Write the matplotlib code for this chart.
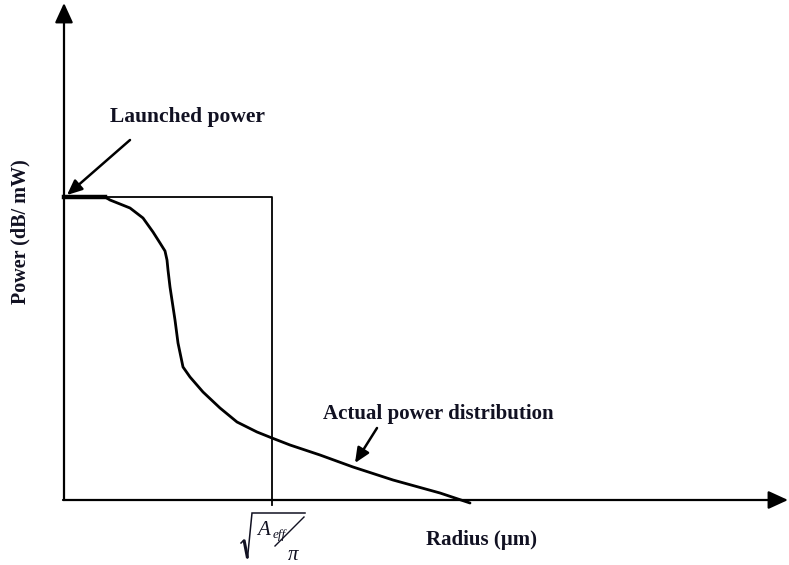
import matplotlib
matplotlib.use('Agg')
import matplotlib.pyplot as plt

# #### Data (arbitrary units: radius along x, power along y)

# Launched power level and effective radius sqrt(Aeff/pi)
launched_power = 30.3
r_eff = 20.8

# Actual power distribution
radius = [0.0, 4.1, 4.6, 6.6, 7.9, 8.9, 9.6, 10.1, 10.3, 10.4, 10.6, 11.1, 11.4, 11.9,
          12.6, 13.9, 15.6, 17.3, 19.3, 20.8, 22.6, 25.6, 28.9, 32.9, 37.6, 40.6]
power = [30.3, 30.3, 30.0, 29.2, 28.2, 26.8, 25.7, 24.9, 24.0, 23.0, 21.3, 18.0, 15.7, 13.3,
         12.3, 10.8, 9.2, 7.8, 6.8, 6.2, 5.5, 4.5, 3.3, 2.0, 0.7, -0.3]

# Flat top of the launched beam (drawn thicker)
flat_radius = [0.0, 4.1]

# Axis extents
x_max = 72.4
y_max = 49.7

txt = '#111122'
plt.rcParams['font.family'] = ['Liberation Serif', 'DejaVu Serif']

fig = plt.figure(figsize=(7.89, 5.65), dpi=100)
ax = fig.add_axes([0, 0, 1, 1])
ax.set_xlim(-6.4, 72.5)
ax.set_ylim(-6.5, 50.0)
ax.axis('off')

# Axes with arrow heads
ax.annotate('', xy=(0, y_max), xytext=(0, 0),
            arrowprops=dict(arrowstyle='-|>,head_length=1.2,head_width=0.55',
                            lw=1.6, color='black', mutation_scale=10, shrinkA=0, shrinkB=0))
ax.annotate('', xy=(x_max, 0), xytext=(-0.1, 0),
            arrowprops=dict(arrowstyle='-|>,head_length=1.2,head_width=0.55',
                            lw=1.6, color='black', mutation_scale=10, shrinkA=0, shrinkB=0))

# Launched power box
ax.plot([0, r_eff, r_eff], [launched_power, launched_power, -0.5], color='black', lw=1.3)

# Actual power distribution
ax.plot(radius, power, color='black', lw=2.0, solid_capstyle='round', solid_joinstyle='round')
ax.plot(flat_radius, [launched_power, launched_power], color='black', lw=3.2)

# Annotations
ax.annotate('', xy=(0.3, 30.5), xytext=(6.6, 36.0),
            arrowprops=dict(arrowstyle='-|>,head_length=0.9,head_width=0.4',
                            lw=1.8, color='black', mutation_scale=10, shrinkA=0, shrinkB=0))
ax.text(4.6, 37.8, 'Launched power', fontsize=15.5, fontweight='bold', color=txt, va='baseline')

ax.annotate('', xy=(29.1, 3.7), xytext=(31.3, 7.2),
            arrowprops=dict(arrowstyle='-|>,head_length=0.9,head_width=0.4',
                            lw=1.8, color='black', mutation_scale=10, shrinkA=0, shrinkB=0))
ax.text(25.9, 8.1, 'Actual power distribution', fontsize=15, fontweight='bold', color=txt, va='baseline')

# Axis labels
ax.text(36.2, -4.5, 'Radius (\u00b5m)', fontsize=15, fontweight='bold', color=txt, va='baseline')
ax.text(-4.4, 26.8, 'Power (dB/ mW)', fontsize=14.5, fontweight='bold', color=txt,
        rotation=90, ha='center', va='center')

# Tick label sqrt(Aeff / pi) under the effective radius, built from pieces
r0 = r_eff
ax.plot([r0 - 3.1, r0 - 2.8], [-4.3, -4.0], color=txt, lw=1.1)
ax.plot([r0 - 2.8, r0 - 2.45], [-4.0, -5.8], color=txt, lw=2.2, solid_capstyle='butt')
ax.plot([r0 - 2.45, r0 - 2.0, r0 + 3.3], [-5.8, -1.3, -1.3], color=txt, lw=1.1,
        solid_joinstyle='miter')
ax.text(r0 - 1.5, -3.5, 'A', fontsize=15, style='italic', color=txt, va='baseline')
ax.text(r0 + 0.05, -3.8, 'eff', fontsize=9.5, style='italic', color=txt, va='baseline')
ax.plot([r0 + 3.2, r0 + 0.3], [-1.7, -4.6], color=txt, lw=1.0)
ax.text(r0 + 1.55, -5.95, '\u03c0', fontsize=15, style='italic', color=txt, va='baseline')

fig.savefig('out.png', dpi=100)
